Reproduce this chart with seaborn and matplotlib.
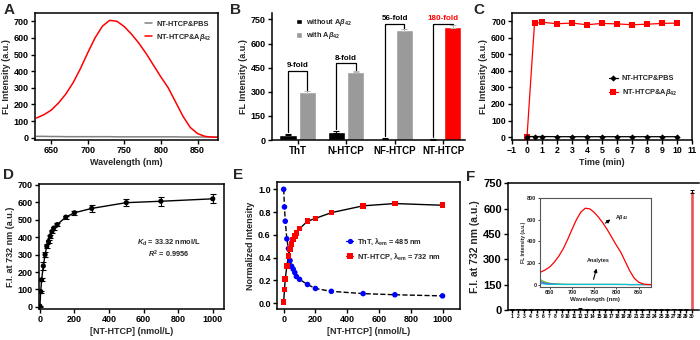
import numpy as np
import pandas as pd
import matplotlib
matplotlib.use("Agg")
import matplotlib.pyplot as plt
import seaborn as sns
from matplotlib.lines import Line2D
from matplotlib.patches import Patch

# ---------------- data ----------------
# Panel A / inset F: emission spectra
wavelength = [630, 640, 650, 660, 670, 680, 690, 700, 710, 720, 730, 740, 750,
              760, 770, 780, 790, 800, 810, 820, 830, 840, 850, 860, 870, 880]
spec_abeta = [118, 138, 165, 208, 262, 330, 415, 510, 600, 670, 706, 700, 668,
              622, 568, 505, 435, 365, 300, 215, 130, 62, 25, 8, 3, 2]
spec_pbs = [8, 8, 7, 7, 6, 6, 6, 6, 6, 6, 6, 5, 5,
            5, 5, 5, 5, 5, 5, 5, 4, 4, 4, 4, 4, 4]
spec_an1 = [45, 25, 14, 9, 7, 6, 5, 5, 4, 4, 4, 4, 4,
            4, 4, 4, 4, 4, 4, 4, 3, 3, 3, 3, 3, 3]
spec_an2 = [30, 16, 9, 6, 5, 4, 4, 4, 4, 4, 4, 4, 4,
            4, 4, 4, 4, 4, 3, 3, 3, 3, 3, 3, 3, 3]
spec_an3 = [18, 10, 7, 5, 4, 3, 3, 3, 3, 3, 3, 3, 3,
            3, 3, 3, 3, 3, 3, 3, 2, 2, 2, 2, 2, 2]
spec_an4 = [10, 7, 5, 4, 3, 3, 3, 3, 3, 3, 3, 3, 3,
            3, 3, 3, 3, 3, 3, 3, 2, 2, 2, 2, 2, 2]

# Panel B
probes = ["ThT", "N-HTCP", "NF-HTCP", "NT-HTCP"]
b_without = [32, 50, 8, 3]
b_without_err = [4, 5, 2, 1]
b_with = [300, 425, 685, 705]
b_with_err = [6, 5, 6, 9]
fold_labels = ["9-fold", "8-fold", "56-fold", "180-fold"]
bracket_top = [430, 476, 723, 723]

# Panel C
time_min = [0, 0.5, 1, 2, 3, 4, 5, 6, 7, 8, 9, 10]
c_abeta = [0, 688, 695, 686, 690, 680, 688, 685, 680, 683, 688, 690]
c_pbs = [3, 3, 3, 2, 2, 2, 2, 2, 2, 2, 2, 2]

# Panel D
d_conc = [0, 5, 10, 20, 30, 40, 50, 60, 70, 80, 100, 150, 200, 300, 500, 700, 1000]
d_fi = [5, 88, 155, 235, 300, 348, 375, 405, 432, 452, 472, 515, 540, 565, 598, 606, 620]
d_err = [3, 6, 8, 25, 15, 10, 8, 8, 8, 8, 8, 8, 12, 18, 22, 25, 25]

# Panel E
e_conc = [0, 5, 10, 20, 30, 40, 50, 60, 70, 80, 100, 150, 200, 300, 500, 700, 1000]
e_tht = [1.0, 0.845, 0.72, 0.565, 0.48, 0.375, 0.325, 0.30, 0.27, 0.235, 0.21,
         0.165, 0.13, 0.105, 0.085, 0.075, 0.065]
e_nt = [0.01, 0.12, 0.215, 0.325, 0.415, 0.475, 0.52, 0.56, 0.59, 0.615, 0.655,
        0.72, 0.745, 0.795, 0.855, 0.875, 0.86]

# Panel F
f_labels = [str(i) for i in range(1, 31)]
f_values = [4, 5, 3, 4, 5, 6, 4, 5, 3, 4, 5, 8, 4, 3, 5, 4, 3, 4, 5, 4,
            3, 4, 5, 4, 3, 4, 5, 4, 3, 704]
f_err = [2, 2, 2, 2, 2, 2, 2, 2, 2, 2, 2, 3, 2, 2, 2, 2, 2, 2, 2, 2,
         2, 2, 2, 2, 2, 2, 2, 2, 2, 9]

# ---------------- style ----------------
sns.set_style("ticks")
plt.rcParams['font.family'] = ['Liberation Sans', 'DejaVu Sans']
plt.rcParams['font.weight'] = 'bold'
plt.rcParams['axes.labelweight'] = 'bold'
plt.rcParams['mathtext.fontset'] = 'custom'
plt.rcParams['mathtext.rm'] = 'Liberation Sans:bold'
plt.rcParams['mathtext.it'] = 'Liberation Sans:italic:bold'
plt.rcParams['mathtext.bf'] = 'Liberation Sans:bold'
plt.rcParams['axes.linewidth'] = 1.1
plt.rcParams['xtick.major.width'] = 1.0
plt.rcParams['ytick.major.width'] = 1.0
plt.rcParams['xtick.major.size'] = 3
plt.rcParams['ytick.major.size'] = 3
plt.rcParams['xtick.major.pad'] = 1.5
plt.rcParams['ytick.major.pad'] = 1.5
plt.rcParams['axes.labelpad'] = 2

RED = "#ff0000"
GREY = "#9a9a9a"
W, H = 700, 340
fig = plt.figure(figsize=(7, 3.4), dpi=100)


def ax_at(l, t, r, b):
    return fig.add_axes([l / W, 1 - b / H, (r - l) / W, (b - t) / H])


def style(ax, fs=6.5, box=True):
    ax.tick_params(labelsize=fs, colors='black', direction='out')
    for lab in ax.get_xticklabels() + ax.get_yticklabels():
        lab.set_fontweight('bold')
    for s in ax.spines.values():
        s.set_color('black')
    if not box:
        ax.spines['top'].set_visible(False)
        ax.spines['right'].set_visible(False)


mu = r'A$\beta_{42}$'

# ---------------- Panel A ----------------
axA = ax_at(35, 13, 218, 140)
dfA = pd.DataFrame({'wl': wavelength, 'pbs': spec_pbs, 'ab': spec_abeta})
sns.lineplot(data=dfA, x='wl', y='pbs', color='#808080', lw=1.1, ax=axA, label='NT-HTCP&PBS')
sns.lineplot(data=dfA, x='wl', y='ab', color=RED, lw=1.1, ax=axA, label='NT-HTCP&' + mu)
axA.set_xlim(628, 878)
axA.set_ylim(-14, 750)
axA.set_xticks([650, 700, 750, 800, 850])
axA.set_yticks(range(0, 701, 100))
axA.set_xlabel('Wavelength (nm)', fontsize=6.5)
axA.set_ylabel('FL Intensity (a.u.)', fontsize=6.5)
axA.legend(loc='upper right', bbox_to_anchor=(1.0, 0.99), frameon=False, fontsize=5.3,
           handlelength=0.9, handletextpad=0.6, labelspacing=0.5)
style(axA)

# ---------------- Panel B ----------------
axB = ax_at(272, 13, 465, 140)
dfB = pd.DataFrame({
    'probe': probes + probes,
    'cond': ['without'] * 4 + ['with'] * 4,
    'value': b_without + b_with,
})
sns.barplot(data=dfB, x='probe', y='value', hue='cond', order=probes,
            hue_order=['without', 'with'], palette=['black', GREY],
            errorbar=None, width=0.8, gap=0.12, legend=False, ax=axB)
bars_wo = axB.containers[0]
bars_w = axB.containers[1]
bars_w[3].set_facecolor(RED)
xc_wo = [p.get_x() + p.get_width() / 2 for p in bars_wo]
xc_w = [p.get_x() + p.get_width() / 2 for p in bars_w]
axB.errorbar(xc_wo, b_without, yerr=b_without_err, fmt='none', ecolor='black',
             capsize=2, elinewidth=0.8, capthick=0.8)
axB.errorbar(xc_w, b_with, yerr=b_with_err, fmt='none', ecolor='#bbbbbb',
             capsize=2, elinewidth=0.8, capthick=0.8)
for i in range(4):
    top = bracket_top[i]
    y0 = b_without[i] + b_without_err[i] + 15
    y1 = b_with[i] + b_with_err[i] + 8
    axB.plot([xc_wo[i], xc_wo[i], xc_w[i], xc_w[i]], [y0, top, top, y1],
             color='black', lw=0.9)
    axB.text((xc_wo[i] + xc_w[i]) / 2, top + 12, fold_labels[i], ha='center', va='bottom',
             fontsize=5.8, fontweight='bold', color=RED if i == 3 else 'black')
axB.set_xlim(-0.53, 3.45)
axB.set_ylim(0, 790)
axB.set_yticks(range(0, 751, 150))
axB.set_xlabel('')
axB.set_ylabel('FL Intensity (a.u.)', fontsize=6.5)
hB = [Patch(facecolor='black', label='without ' + mu),
      Patch(facecolor=GREY, label='with ' + mu)]
axB.legend(handles=hB, loc='upper left', bbox_to_anchor=(0.09, 1.02), frameon=False,
           fontsize=5.3, handlelength=0.8, handleheight=0.8, handletextpad=0.6,
           labelspacing=0.3)
style(axB, box=False)
axB.tick_params(axis='x', labelsize=7)

# ---------------- Panel C ----------------
axC = ax_at(512, 13, 692, 140)
dfC = pd.DataFrame({'t': time_min, 'pbs': c_pbs, 'ab': c_abeta})
sns.lineplot(data=dfC, x='t', y='ab', color=RED, marker='s', markersize=3.8,
             markeredgewidth=0, lw=0.9, ax=axC)
sns.lineplot(data=dfC, x='t', y='pbs', color='black', marker='D', markersize=3.2,
             markeredgewidth=0, lw=0.9, ax=axC)
axC.set_xlim(-1, 11)
axC.set_ylim(-18, 751)
axC.set_xticks(range(-1, 12))
axC.set_yticks(range(0, 701, 100))
axC.set_xlabel('Time (min)', fontsize=6.5)
axC.set_ylabel('FL Intensity (a.u.)', fontsize=6.5)
hC = [Line2D([], [], color='black', marker='D', ms=3.2, mew=0, lw=0.9, label='NT-HTCP&PBS'),
      Line2D([], [], color=RED, marker='s', ms=3.8, mew=0, lw=0.9, label='NT-HTCP&' + mu)]
axC.legend(handles=hC, loc='center left', bbox_to_anchor=(0.5, 0.42), frameon=False,
           fontsize=5.3, handlelength=1.3, handletextpad=0.5, labelspacing=0.7)
style(axC, fs=6.3)

# ---------------- Panel D ----------------
axD = ax_at(39, 184, 224, 309)
dfD = pd.DataFrame({'c': d_conc, 'fi': d_fi})
sns.lineplot(data=dfD, x='c', y='fi', color='black', lw=1.0, ax=axD)
axD.errorbar(d_conc, d_fi, yerr=d_err, fmt='none', ecolor='black', capsize=2,
             elinewidth=0.8, capthick=0.8)
sns.scatterplot(data=dfD, x='c', y='fi', color='black', s=14, marker='o',
                edgecolor='none', ax=axD, zorder=3)
axD.set_xlim(-5, 1065)
axD.set_ylim(-12, 705)
axD.set_xticks(range(0, 1001, 200))
axD.set_yticks(range(0, 701, 100))
axD.set_xlabel('[NT-HTCP] (nmol/L)', fontsize=6.5)
axD.set_ylabel('F.I. at 732 nm (a.u.)', fontsize=6.5)
axD.text(0.70, 0.53, r'$K_{\rm d}$ = 33.32 nmol/L', transform=axD.transAxes,
         ha='center', va='center', fontsize=5.3, fontweight='bold')
axD.text(0.70, 0.44, r'$R^{2}$ = 0.9956', transform=axD.transAxes,
         ha='center', va='center', fontsize=5.3, fontweight='bold')
style(axD)

# ---------------- Panel E ----------------
axE = ax_at(277, 182, 460, 309)
dfE = pd.DataFrame({'c': e_conc, 'tht': e_tht, 'nt': e_nt})
sns.lineplot(data=dfE, x='c', y='tht', color='black', lw=1.0, linestyle='--', ax=axE)
sns.lineplot(data=dfE, x='c', y='nt', color='black', lw=1.0, ax=axE)
sns.scatterplot(data=dfE, x='c', y='tht', color='#0000ff', s=16, marker='o',
                edgecolor='none', ax=axE, zorder=3)
sns.scatterplot(data=dfE, x='c', y='nt', color=RED, s=16, marker='s',
                edgecolor='none', ax=axE, zorder=3)
axE.set_xlim(-42, 1110)
axE.set_ylim(-0.05, 1.064)
axE.set_xticks(range(0, 1001, 200))
axE.set_yticks([0.0, 0.2, 0.4, 0.6, 0.8, 1.0])
axE.set_yticklabels(['0.0', '0.2', '0.4', '0.6', '0.8', '1.0'])
axE.set_xlabel('[NT-HTCP] (nmol/L)', fontsize=6.5)
axE.set_ylabel('Normalized Intensity', fontsize=6.5)
hE = [Line2D([], [], color='#0000ff', marker='o', ms=3.8, mew=0, lw=0.9,
             label=r'ThT, $\mathrm{\lambda_{em}}$ = 485 nm'),
      Line2D([], [], color=RED, marker='s', ms=3.8, mew=0, lw=0.9,
             label=r'NT-HTCP, $\mathrm{\lambda_{em}}$ = 732 nm')]
axE.legend(handles=hE, loc='center left', bbox_to_anchor=(0.34, 0.47), frameon=False,
           fontsize=5.3, handlelength=1.0, handletextpad=0.5, labelspacing=0.6)
style(axE)

# ---------------- Panel F ----------------
axF = ax_at(508, 183, 699, 310)
dfF = pd.DataFrame({'cat': f_labels, 'v': f_values})
sns.barplot(data=dfF, x='cat', y='v', order=f_labels, color='#ff3b3b',
            errorbar=None, width=0.65, ax=axF)
fx = [p.get_x() + p.get_width() / 2 for p in axF.patches]
axF.errorbar(fx, f_values, yerr=f_err, fmt='none', ecolor='black', capsize=1.2,
             elinewidth=0.7, capthick=0.7)
axF.set_xlim(-0.65, 30.1)
axF.set_ylim(0, 752)
axF.set_yticks(range(0, 751, 150))
axF.set_xlabel('')
axF.set_ylabel('F.I. at 732 nm (a.u.)', fontsize=7.5)
style(axF, fs=8)
axF.tick_params(axis='x', labelsize=3.6, length=2, pad=1)
axF.spines['right'].set_visible(False)

# inset
axI = ax_at(540, 198, 651, 287)
dfI = pd.DataFrame({'wl': wavelength, 'ab': spec_abeta, 'a1': spec_an1, 'a2': spec_an2,
                    'a3': spec_an3, 'a4': spec_an4})
for col, c in [('a1', '#66cc00'), ('a2', '#3366ff'), ('a3', '#9933cc'), ('a4', '#00cccc')]:
    sns.lineplot(data=dfI, x='wl', y=col, color=c, lw=0.8, ax=axI)
sns.lineplot(data=dfI, x='wl', y='ab', color=RED, lw=0.9, ax=axI)
axI.set_xlim(628, 878)
axI.set_ylim(-20, 800)
axI.set_xticks([650, 700, 750, 800, 850])
axI.set_yticks(range(0, 801, 200))
axI.set_xlabel('Wavelength (nm)', fontsize=4.5, labelpad=1)
axI.set_ylabel('FL Intensity (a.u.)', fontsize=3.6, labelpad=1)
axI.tick_params(labelsize=4, length=1.5, pad=1, width=0.6)
for lab in axI.get_xticklabels() + axI.get_yticklabels():
    lab.set_fontweight('bold')
for s in axI.spines.values():
    s.set_color('#555555')
    s.set_linewidth(0.8)
axI.annotate('', xy=(792, 616), xytext=(770, 554),
             arrowprops=dict(arrowstyle='-|>', color='black', lw=0.8, mutation_scale=5))
axI.text(797, 616, mu, fontsize=4, fontweight='bold', va='center', ha='left')
axI.annotate('', xy=(757, 175), xytext=(747, 26),
             arrowprops=dict(arrowstyle='-|>', color='black', lw=0.8, mutation_scale=5))
axI.text(760, 228, 'Analytes', fontsize=4, fontweight='bold', va='center', ha='center')

# panel letters
for letter, x, y in [('A', 4, 3), ('B', 230, 3), ('C', 473, 3),
                     ('D', 3, 168), ('E', 233, 168), ('F', 466, 170)]:
    fig.text(x / W, 1 - y / H, letter, fontsize=11, fontweight='bold', va='top', ha='left')

fig.savefig('out.png', dpi=100)
